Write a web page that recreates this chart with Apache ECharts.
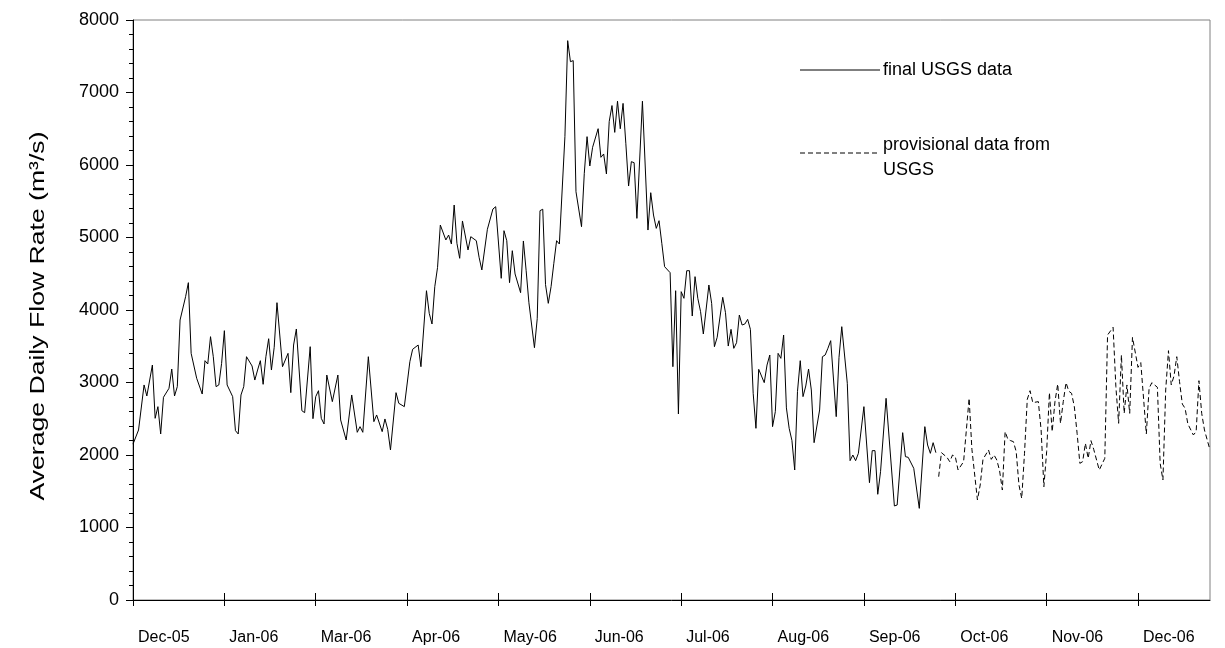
<!DOCTYPE html>
<html>
<head>
<meta charset="utf-8">
<script src="https://cdn.jsdelivr.net/npm/echarts@6/dist/echarts.min.js"></script>
<style>
    html, body { margin: 0; background: #fff; }
    #flowChart { width: 1225px; height: 648px; }
</style>
</head>
<body>
<div id="flowChart"></div>
<script>
// day index (0 = first day on the axis) and flow (m3/s)
var finalDays = [
    0, 2, 4, 5, 7, 8, 9, 10, 11, 13, 14, 15, 16, 17, 19, 20, 21, 23, 25, 26,
    27, 28, 29, 30, 31, 32, 33, 34, 36, 37, 38, 39, 40, 41, 43, 44, 45, 46, 47, 48,
    49, 50, 51, 52, 54, 56, 57, 58, 59, 61, 62, 64, 65, 66, 67, 68, 69, 70, 72, 74,
    75, 77, 79, 81, 82, 83, 85, 87, 88, 90, 91, 92, 93, 95, 96, 98, 100, 101, 103, 104,
    106, 107, 108, 109, 110, 111, 113, 114, 115, 116, 117, 118, 119, 121, 122, 124, 125, 126, 128, 130,
    131, 133, 134, 135, 136, 137, 138, 140, 141, 142, 143, 145, 146, 147, 148, 149, 150, 151, 152, 153,
    154, 156, 157, 158, 159, 160, 162, 163, 164, 165, 166, 168, 169, 170, 171, 172, 173, 174, 175, 176,
    177, 178, 179, 180, 181, 182, 184, 186, 187, 188, 189, 190, 191, 192, 194, 195, 196, 197, 198, 199,
    200, 201, 202, 203, 204, 205, 206, 208, 209, 210, 211, 213, 214, 215, 216, 217, 218, 219, 220, 221,
    222, 223, 224, 225, 226, 228, 229, 230, 231, 232, 233, 234, 235, 236, 237, 238, 239, 240, 241, 242,
    243, 244, 245, 246, 248, 249, 250, 251, 252, 254, 255, 256, 258, 259, 260, 261, 262, 264, 266, 267,
    268, 269, 270, 272, 275, 276, 278, 279, 280, 282, 284, 286, 287, 288, 289, 290
];
var finalFlow = [
    2150, 2345, 2966, 2814, 3241, 2506, 2667, 2290, 2796, 2920, 3186, 2814, 2943, 3862, 4184, 4377, 3402, 3058, 2841, 3301,
    3255, 3632, 3356, 2943, 2966, 3264, 3715, 2966, 2805, 2336, 2290, 2828, 2943, 3356, 3228, 3034, 3172, 3301, 2975, 3356,
    3604, 3172, 3485, 4101, 3218, 3402, 2860, 3517, 3738, 2611, 2584, 3494, 2501, 2805, 2887, 2506, 2428, 3103, 2736, 3103,
    2483, 2207, 2828, 2313, 2391, 2313, 3356, 2460, 2552, 2322, 2497, 2354, 2069, 2860, 2713, 2667, 3287, 3458, 3517, 3218,
    4266, 3954, 3807, 4322, 4588, 5172, 4966, 5034, 4910, 5448, 4920, 4713, 5228, 4828, 5011, 4956, 4727, 4552, 5113, 5393,
    5425, 4437, 5094, 4956, 4377, 4818, 4497, 4239, 4952, 4542, 4100, 3480, 3880, 5370, 5390, 4350, 4092, 4322, 4644, 4956,
    4910, 6391, 7715, 7425, 7440, 5632, 5149, 5885, 6391, 5986, 6244, 6501, 6106, 6152, 5876, 6600, 6820, 6450, 6880, 6500,
    6850, 6300, 5710, 6046, 6032, 5264, 6880, 5103, 5618, 5310, 5126, 5232, 4920, 4598, 4515, 3218, 4266, 2566, 4253, 4161,
    4542, 4542, 3917, 4460, 4161, 3977, 3669, 4345, 4092, 3494, 3623, 4175, 3963, 3503, 3733, 3471, 3549, 3931, 3793, 3807,
    3871, 3733, 2851, 2368, 3182, 2998, 3241, 3379, 2391, 2598, 3402, 3333, 3655, 2650, 2368, 2200, 1793, 2874, 3301, 2805,
    2952, 3186, 2897, 2170, 2621, 3356, 3379, 3472, 3577, 2529, 3347, 3770, 2989, 1922, 2000, 1922, 2023, 2667, 1618, 2060,
    2060, 1458, 1770, 2782, 1297, 1310, 2308, 1977, 1968, 1816, 1264, 2391, 2138, 2023, 2170, 2032
];
var provDays = [
    291, 292, 294, 295, 296, 297, 298, 300, 302, 303, 305, 306, 307, 309, 310, 311, 312, 313, 314, 315,
    316, 317, 318, 319, 320, 321, 322, 323, 324, 325, 327, 328, 329, 330, 331, 332, 333, 334, 335, 336,
    337, 338, 339, 340, 341, 342, 343, 344, 345, 346, 347, 349, 351, 352, 354, 355, 356, 357, 358, 359,
    360, 361, 363, 364, 366, 367, 368, 370, 371, 372, 373, 374, 375, 376, 377, 378, 379, 380, 381, 383,
    384, 385, 386, 387, 389
];
var provFlow = [
    1701, 2032, 1968, 1908, 2000, 1977, 1793, 1908, 2782, 2080, 1380, 1586, 1940, 2069, 1940, 2000, 1931, 1784, 1517, 2322,
    2216, 2198, 2184, 2046, 1586, 1402, 2023, 2768, 2887, 2722, 2736, 2345, 1563, 2046, 2860, 2322, 2736, 2979, 2437, 2736,
    2998, 2880, 2851, 2667, 2299, 1885, 1908, 2161, 1954, 2198, 2078, 1793, 1954, 3655, 3761, 2943, 2437, 3379, 2575, 2966,
    2575, 3623, 3209, 3274, 2290, 2920, 2998, 2934, 1885, 1655, 2897, 3439, 2966, 3090, 3356, 3011, 2703, 2644, 2428, 2276,
    2322, 3025, 2575, 2345, 2069
];
var tickDays = [0, 33, 66, 99, 132, 165, 198, 231, 264, 297, 330, 363];
var tickLabels = ["Dec-05", "Jan-06", "Mar-06", "Apr-06", "May-06", "Jun-06",
                  "Jul-06", "Aug-06", "Sep-06", "Oct-06", "Nov-06", "Dec-06"];

var FONT = "Liberation Sans, Arial, sans-serif";

function zip(days, flow) {
    return days.map(function (d, i) { return [d, flow[i]]; });
}

var myChart = echarts.init(document.getElementById("flowChart"));
var option = {
    animation: false,
    backgroundColor: "#fff",
    grid: {
        left: 133, right: 15, top: 20, bottom: 48,
        show: true, borderColor: "#808080", borderWidth: 1
    },
    xAxis: [
        {
            type: "value", min: 0, max: 389,
            axisLine: { lineStyle: { color: "#000", width: 1 } },
            axisTick: { customValues: tickDays, length: 6, lineStyle: { color: "#000" } },
            axisLabel: {
                customValues: tickDays,
                formatter: function (v) { return tickLabels[tickDays.indexOf(v)] || ""; },
                align: "left", padding: [0, 0, 0, 5], margin: 30,
                fontSize: 16, color: "#000", fontFamily: FONT
            },
            splitLine: { show: false }
        },
        {
            // inner half of the crossing ticks
            type: "value", min: 0, max: 389, position: "bottom",
            axisLine: { show: false },
            axisTick: { inside: true, customValues: tickDays, length: 7, lineStyle: { color: "#000" } },
            axisLabel: { show: false },
            splitLine: { show: false }
        }
    ],
    yAxis: {
        type: "value", min: 0, max: 8000, interval: 1000,
        axisLine: { show: true, lineStyle: { color: "#000", width: 1 } },
        axisTick: { show: true, length: 7, lineStyle: { color: "#000" } },
        minorTick: { show: true, splitNumber: 5, length: 4, lineStyle: { color: "#000" } },
        axisLabel: {
            fontSize: 18, color: "#000", margin: 14, fontFamily: FONT,
            formatter: function (v) { return String(v); }
        },
        splitLine: { show: false }
    },
    graphic: [
        {
            // axis title, stretched along its length like the original
            type: "text", x: 38, y: 316, rotation: Math.PI / 2, scaleX: 1.33,
            style: {
                text: "Average Daily Flow Rate (m³/s)", fill: "#000",
                font: "20px " + FONT, align: "center", verticalAlign: "middle"
            }
        },
        { type: "line", shape: { x1: 800, y1: 70, x2: 880, y2: 70 }, style: { stroke: "#000", lineWidth: 1 } },
        { type: "text", x: 883, y: 70, style: { text: "final USGS data", fill: "#000", font: "18px " + FONT, verticalAlign: "middle" } },
        { type: "line", shape: { x1: 800, y1: 153, x2: 880, y2: 153 }, style: { stroke: "#000", lineWidth: 1, lineDash: [5, 3] } },
        { type: "text", x: 883, y: 133, style: { text: "provisional data from\nUSGS", fill: "#000", font: "18px " + FONT, lineHeight: 25, verticalAlign: "top" } }
    ],
    series: [
        {
            name: "final USGS data", type: "line", data: zip(finalDays, finalFlow),
            showSymbol: false, symbol: "none",
            lineStyle: { color: "#000", width: 1 }
        },
        {
            name: "provisional data from USGS", type: "line", data: zip(provDays, provFlow),
            showSymbol: false, symbol: "none",
            lineStyle: { color: "#000", width: 1, type: [5, 3] }
        }
    ]
};
myChart.setOption(option);
</script>
</body>
</html>
